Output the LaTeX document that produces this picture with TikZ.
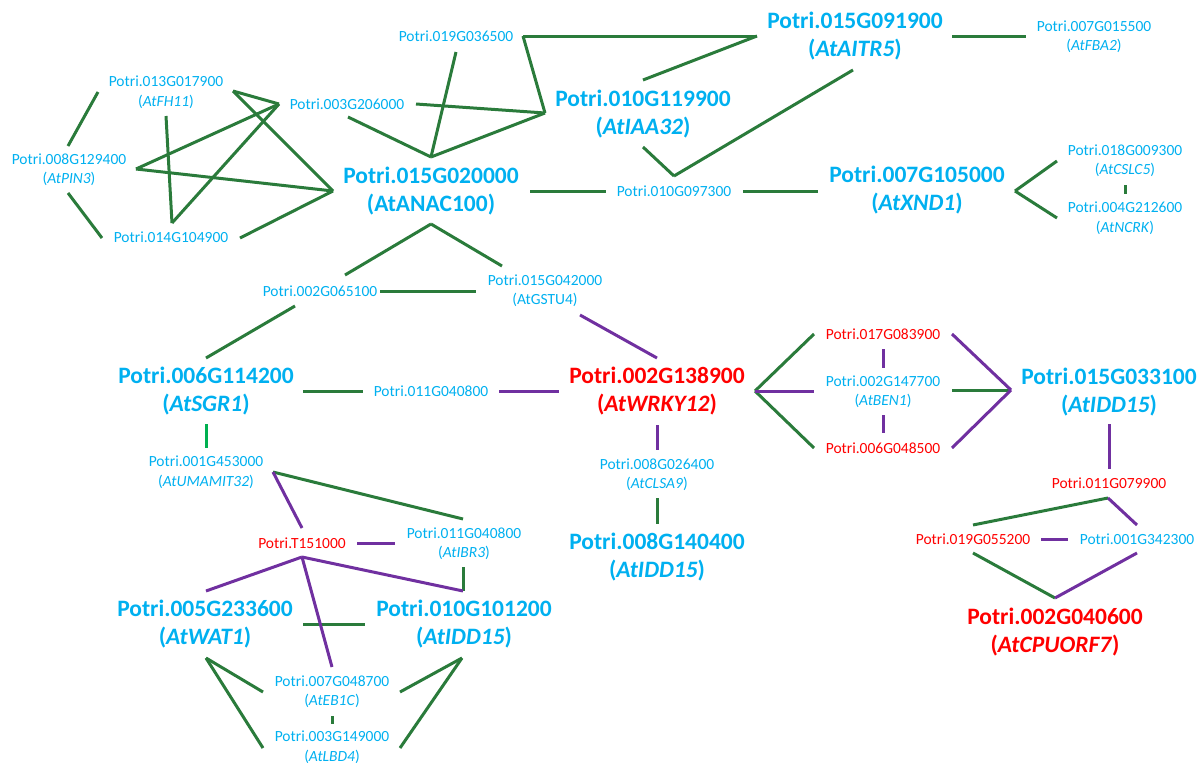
\documentclass[tikz,border=0pt]{standalone}
\usepackage{fontspec}
\setmainfont{Carlito}
\definecolor{cyanc}{HTML}{00B0F0}
\definecolor{redc}{HTML}{FF0000}
\definecolor{greenc}{HTML}{2A7B3B}
\definecolor{brightg}{HTML}{00B050}
\definecolor{purplec}{HTML}{7030A0}
\tikzset{
  sm/.style={font=\fontsize{15.5}{19.5}\selectfont, align=center, inner sep=0pt},
  bg/.style={font=\bfseries\fontsize{23.5}{28}\selectfont, align=center, inner sep=0pt},
  cy/.style={text=cyanc},
  rd/.style={text=redc},
  gl/.style={draw=greenc, line width=3pt},
  pl/.style={draw=purplec, line width=3pt},
  bgl/.style={draw=brightg, line width=3pt}
}
\begin{document}
\begin{tikzpicture}[x=1pt,y=-1pt]
\useasboundingbox (0,0) rectangle (1203,763);
% ---------- nodes ----------
\node[sm,cy] (fh11) at (166,92) {Potri.013G017900\\(\textit{AtFH11})};
\node[sm,cy] (pin3) at (69,169.5) {Potri.008G129400\\(\textit{AtPIN3})};
\node[sm,cy] (n014) at (171,237) {Potri.014G104900};
\node[sm,cy] (n003) at (347,104) {Potri.003G206000};
\node[sm,cy] (n019) at (456,36) {Potri.019G036500};
\node[bg,cy] (anac) at (431,191) {Potri.015G020000\\(AtANAC100)};
\node[bg,cy] (iaa32) at (643,114) {Potri.010G119900\\(\textit{AtIAA32})};
\node[sm,cy] (n097) at (674,191) {Potri.010G097300};
\node[bg,cy] (aitr5) at (855,36.5) {Potri.015G091900\\(\textit{AtAITR5})};
\node[sm,cy] (fba2) at (1094,36.5) {Potri.007G015500\\(\textit{AtFBA2})};
\node[bg,cy] (xnd1) at (917,190.5) {Potri.007G105000\\(\textit{AtXND1})};
\node[sm,cy] (cslc5) at (1125,160.5) {Potri.018G009300\\(\textit{AtCSLC5})};
\node[sm,cy] (ncrk) at (1125,218) {Potri.004G212600\\(\textit{AtNCRK})};
\node[sm,cy] (n065) at (320,291) {Potri.002G065100};
\node[sm,cy] (gstu4) at (545,290.5) {Potri.015G042000\\(AtGSTU4)};
\node[bg,cy] (sgr1) at (206,391) {Potri.006G114200\\(\textit{AtSGR1})};
\node[sm,cy] (n040) at (431,391) {Potri.011G040800};
\node[bg,rd] (wrky) at (657,391) {Potri.002G138900\\(\textit{AtWRKY12})};
\node[sm,cy] (clsa9) at (657,474.5) {Potri.008G026400\\(\textit{AtCLSA9})};
\node[bg,cy] (idda) at (657,557.5) {Potri.008G140400\\(\textit{AtIDD15})};
\node[sm,cy] (umamit) at (206,472) {Potri.001G453000\\(\textit{AtUMAMIT32})};
\node[sm,rd] (t151) at (302,543) {Potri.T151000};
\node[sm,cy] (ibr3) at (464,543.5) {Potri.011G040800\\(\textit{AtIBR3})};
\node[bg,cy] (wat1) at (205,624) {Potri.005G233600\\(\textit{AtWAT1})};
\node[bg,cy] (iddb) at (464,624.5) {Potri.010G101200\\(\textit{AtIDD15})};
\node[sm,cy] (eb1c) at (332,691.5) {Potri.007G048700\\(\textit{AtEB1C})};
\node[sm,cy] (lbd4) at (332,747) {Potri.003G149000\\(\textit{AtLBD4})};
\node[sm,rd] (n083) at (883,334) {Potri.017G083900};
\node[sm,cy] (ben1) at (883,391.5) {Potri.002G147700\\(\textit{AtBEN1})};
\node[sm,rd] (n048) at (883,448) {Potri.006G048500};
\node[bg,cy] (iddc) at (1109,392) {Potri.015G033100\\(\textit{AtIDD15})};
\node[sm,rd] (n079) at (1109,483) {Potri.011G079900};
\node[sm,rd] (n055) at (973,539) {Potri.019G055200};
\node[sm,cy] (n342) at (1137,539) {Potri.001G342300};
\node[bg,rd] (cpu) at (1055,632) {Potri.002G040600\\(\textit{AtCPUORF7})};
% ---------- connector end points ----------
\coordinate (fh11-w) at (98,92);
\coordinate (fh11-s) at (166,116);
\coordinate (fh11-e) at (233,91);
\coordinate (pin3-n) at (68,146);
\coordinate (pin3-s) at (68,193);
\coordinate (pin3-e) at (136,169);
\coordinate (n014-w) at (102,238);
\coordinate (n014-n) at (172,223);
\coordinate (n014-e) at (240,238);
\coordinate (n003-w) at (279,104);
\coordinate (n003-se) at (348,117);
\coordinate (n003-e) at (416,104);
\coordinate (n019-s) at (456,52);
\coordinate (n019-e) at (523,36);
\coordinate (anac-w) at (333,191);
\coordinate (anac-n) at (431,157);
\coordinate (anac-e) at (530,191);
\coordinate (anac-s) at (431,224);
\coordinate (iaa32-w) at (545,113);
\coordinate (iaa32-ne) at (643,80);
\coordinate (iaa32-s) at (643,147);
\coordinate (n097-n) at (674,176);
\coordinate (n097-w) at (606,191);
\coordinate (n097-e) at (743,191);
\coordinate (aitr5-w) at (757,36);
\coordinate (aitr5-sw) at (853,70);
\coordinate (aitr5-e) at (952,36);
\coordinate (fba2-w) at (1026,36);
\coordinate (xnd1-w) at (818,191);
\coordinate (xnd1-e) at (1015,191);
\coordinate (cslc5-w) at (1057,161);
\coordinate (cslc5-s) at (1125,185);
\coordinate (ncrk-w) at (1057,218);
\coordinate (ncrk-n) at (1125,194);
\coordinate (n065-ne) at (345,275);
\coordinate (n065-sw) at (295,306);
\coordinate (n065-e) at (380,291);
\coordinate (gstu4-nw) at (502,266);
\coordinate (gstu4-w) at (476,291);
\coordinate (gstu4-s) at (580,315);
\coordinate (sgr1-n) at (206,358);
\coordinate (sgr1-e) at (303,391);
\coordinate (sgr1-s) at (206,424);
\coordinate (n040-w) at (363,391);
\coordinate (n040-e) at (499,391);
\coordinate (wrky-n) at (657,358);
\coordinate (wrky-w) at (559,391);
\coordinate (wrky-s) at (657,425);
\coordinate (wrky-e) at (755,391);
\coordinate (clsa9-n) at (657,450);
\coordinate (clsa9-s) at (657,498);
\coordinate (idda-n) at (657,524);
\coordinate (umamit-n) at (206,448);
\coordinate (umamit-e) at (273,472);
\coordinate (ibr3-n) at (463,519);
\coordinate (ibr3-w) at (395,543);
\coordinate (ibr3-s) at (463,567);
\coordinate (t151-n) at (302,528);
\coordinate (t151-e) at (357,543);
\coordinate (t151-s) at (302,557);
\coordinate (wat1-n) at (206,591);
\coordinate (wat1-e) at (303,624);
\coordinate (wat1-s) at (206,658);
\coordinate (iddb-n) at (463,591);
\coordinate (iddb-w) at (365,624);
\coordinate (iddb-s) at (462,658);
\coordinate (eb1c-n) at (332,667);
\coordinate (eb1c-w) at (263,692);
\coordinate (eb1c-e) at (400,692);
\coordinate (eb1c-s) at (332,716);
\coordinate (lbd4-n) at (332,724);
\coordinate (lbd4-w) at (263,748);
\coordinate (lbd4-e) at (400,748);
\coordinate (n083-w) at (814,334);
\coordinate (n083-s) at (883,349);
\coordinate (n083-e) at (952,334);
\coordinate (ben1-w) at (814,391);
\coordinate (ben1-n) at (883,368);
\coordinate (ben1-s) at (883,415);
\coordinate (ben1-e) at (952,390);
\coordinate (n048-w) at (814,448);
\coordinate (n048-n) at (883,433);
\coordinate (n048-e) at (952,448);
\coordinate (iddc-w) at (1011,390);
\coordinate (iddc-s) at (1109,424);
\coordinate (n079-n) at (1109,469);
\coordinate (n079-s) at (1108,498);
\coordinate (n055-ne) at (973,525);
\coordinate (n055-e) at (1041,539);
\coordinate (n055-s) at (973,553);
\coordinate (n342-n) at (1137,525);
\coordinate (n342-w) at (1068,539);
\coordinate (n342-s) at (1137,553);
\coordinate (cpu-n) at (1055,598);
% ---------- green connectors ----------
\draw[gl] (fh11-w) -- (pin3-n);
\draw[gl] (pin3-s) -- (n014-w);
\draw[gl] (fh11-s) -- (n014-n);
\draw[gl] (n014-n) -- (n003-w);
\draw[gl] (fh11-e) -- (n003-w);
\draw[gl] (fh11-e) -- (anac-w);
\draw[gl] (pin3-e) -- (n003-w);
\draw[gl] (pin3-e) -- (anac-w);
\draw[gl] (n014-e) -- (anac-w);
\draw[gl] (n003-se) -- (anac-n);
\draw[gl] (n003-e) -- (iaa32-w);
\draw[gl] (anac-n) -- (n019-s);
\draw[gl] (anac-n) -- (iaa32-w);
\draw[gl] (n019-e) -- (aitr5-w);
\draw[gl] (n019-e) -- (iaa32-w);
\draw[gl] (iaa32-ne) -- (aitr5-w);
\draw[gl] (iaa32-s) -- (n097-n);
\draw[gl] (n097-n) -- (aitr5-sw);
\draw[gl] (anac-e) -- (n097-w);
\draw[gl] (n097-e) -- (xnd1-w);
\draw[gl] (aitr5-e) -- (fba2-w);
\draw[gl] (xnd1-e) -- (cslc5-w);
\draw[gl] (xnd1-e) -- (ncrk-w);
\draw[gl] (cslc5-s) -- (ncrk-n);
\draw[gl] (anac-s) -- (n065-ne);
\draw[gl] (anac-s) -- (gstu4-nw);
\draw[gl] (n065-sw) -- (sgr1-n);
\draw[gl] (n065-e) -- (gstu4-w);
\draw[gl] (sgr1-e) -- (n040-w);
\draw[bgl] (sgr1-s) -- (umamit-n);
\draw[gl] (umamit-e) -- (ibr3-n);
\draw[gl] (clsa9-s) -- (idda-n);
\draw[gl] (wrky-e) -- (n083-w);
\draw[gl] (wrky-e) -- (n048-w);
\draw[gl] (ben1-e) -- (iddc-w);
\draw[gl] (n055-ne) -- (n079-s);
\draw[gl] (n055-s) -- (cpu-n);
\draw[gl] (ibr3-s) -- (iddb-n);
\draw[gl] (wat1-e) -- (iddb-w);
\draw[gl] (wat1-s) -- (eb1c-w);
\draw[gl] (wat1-s) -- (lbd4-w);
\draw[gl] (eb1c-s) -- (lbd4-n);
\draw[gl] (iddb-s) -- (eb1c-e);
\draw[gl] (iddb-s) -- (lbd4-e);
% ---------- purple connectors ----------
\draw[pl] (umamit-e) -- (t151-n);
\draw[pl] (gstu4-s) -- (wrky-n);
\draw[pl] (n040-e) -- (wrky-w);
\draw[pl] (wrky-s) -- (clsa9-n);
\draw[pl] (wrky-e) -- (ben1-w);
\draw[pl] (n083-s) -- (ben1-n);
\draw[pl] (ben1-s) -- (n048-n);
\draw[pl] (n083-e) -- (iddc-w);
\draw[pl] (n048-e) -- (iddc-w);
\draw[pl] (iddc-s) -- (n079-n);
\draw[pl] (n079-s) -- (n342-n);
\draw[pl] (n055-e) -- (n342-w);
\draw[pl] (cpu-n) -- (n342-s);
\draw[pl] (t151-e) -- (ibr3-w);
\draw[pl] (t151-s) -- (wat1-n);
\draw[pl] (t151-s) -- (iddb-n);
\draw[pl] (t151-s) -- (eb1c-n);
\end{tikzpicture}
\end{document}
